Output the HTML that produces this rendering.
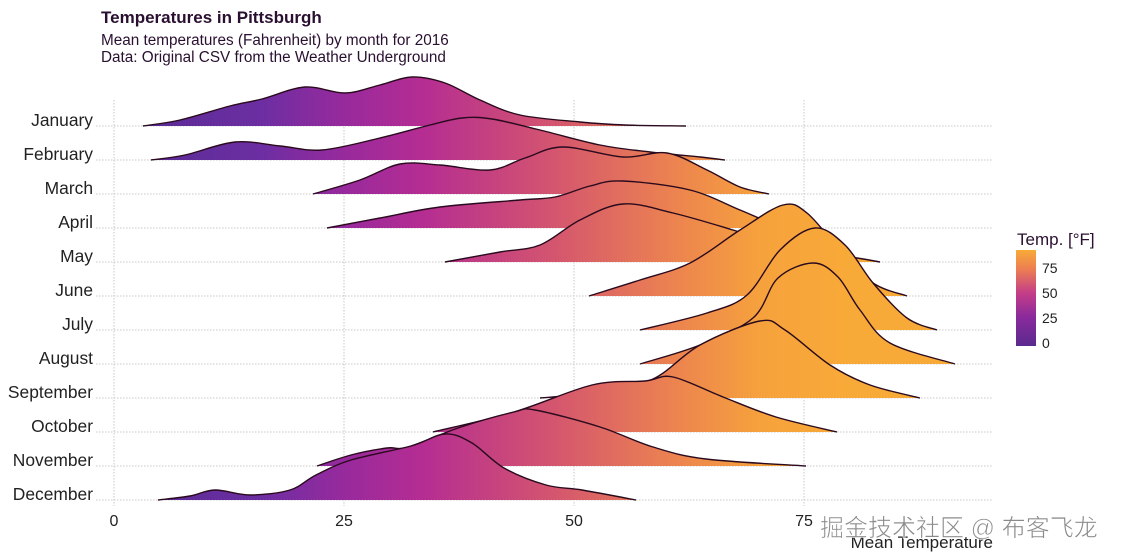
<!DOCTYPE html>
<html><head><meta charset="utf-8"><style>
html,body{margin:0;padding:0;background:#fff;width:1122px;height:560px;overflow:hidden}
svg{display:block}
text{font-family:"Liberation Sans",Arial,sans-serif}
</style></head><body>
<svg id="s" width="1122" height="560" viewBox="0 0 1122 560" xmlns="http://www.w3.org/2000/svg">
<defs>
<linearGradient id="g" gradientUnits="userSpaceOnUse" x1="114" y1="0" x2="850" y2="0">
<stop offset="0" stop-color="#552b92"/>
<stop offset="0.2" stop-color="#6c2ea2"/>
<stop offset="0.32" stop-color="#9a2a9c"/>
<stop offset="0.42" stop-color="#b52d92"/>
<stop offset="0.6" stop-color="#d4566e"/>
<stop offset="0.76" stop-color="#ec8350"/>
<stop offset="0.88" stop-color="#f6a23c"/>
<stop offset="1" stop-color="#f8aa38"/>
</linearGradient>
<linearGradient id="lg" x1="0" y1="1" x2="0" y2="0">
<stop offset="0" stop-color="#5a2a8e"/>
<stop offset="0.3" stop-color="#8a2a9c"/>
<stop offset="0.55" stop-color="#c43d88"/>
<stop offset="0.8" stop-color="#ec7e52"/>
<stop offset="1" stop-color="#f8aa38"/>
</linearGradient>
</defs>
<g id="grid" stroke="#c8c8c8" stroke-width="1" stroke-dasharray="1.5,1.5" fill="none"></g>
<g id="ridges"></g>
<text x="101" y="23" font-size="17" font-weight="bold" fill="#2a1030">Temperatures in Pittsburgh</text>
<text x="101" y="45" font-size="15.3" fill="#2a1030">Mean temperatures (Fahrenheit) by month for 2016</text>
<text x="101" y="62" font-size="15.3" fill="#2a1030">Data: Original CSV from the Weather Underground</text>
<g id="labels" font-size="17.4" fill="#222" text-anchor="end"></g>
<g font-size="16" fill="#222" text-anchor="middle">
<text x="114" y="526">0</text><text x="344" y="526">25</text><text x="574" y="526">50</text><text x="804" y="526">75</text>
</g>
<text x="993" y="548" font-size="17" fill="#222" text-anchor="end">Mean Temperature</text>
<text x="1017" y="245" font-size="17" fill="#2a1030">Temp. [°F]</text>
<rect x="1016" y="250" width="20" height="96" fill="url(#lg)"/>
<g font-size="14" fill="#222">
<text x="1042" y="273">75</text><text x="1042" y="298">50</text><text x="1042" y="323">25</text><text x="1042" y="348">0</text>
</g>
<text x="820" y="536" font-size="24" fill="#8a8a8a" stroke="#fff" stroke-width="0.6" font-family="'Liberation Sans','Noto Sans CJK SC',sans-serif">掘金技术社区 @ 布客飞龙</text>
</svg>
<script>
var months=["January","February","March","April","May","June","July","August","September","October","November","December"];
var data=[
[[143,126],[180,120],[230,106],[262,99],[305,87],[345,93],[380,85],[412,77],[445,83],[480,100],[520,115],[580,122],[625,125],[686,126]],
[[151,160],[185,155],[235,142],[280,146],[322,150],[380,138],[430,125],[462,118],[492,119],[540,130],[600,145],[650,152],[700,157],[725,160]],
[[313,194],[360,180],[400,164],[440,165],[490,170],[525,158],[563,147],[623,157],[667,153],[707,170],[740,187],[769,194]],
[[327,228],[380,218],[440,207],[520,200],[555,197],[590,186],[623,181],[690,190],[740,210],[770,222],[805,228]],
[[445,262],[500,252],[540,245],[580,220],[623,204],[673,213],[733,230],[780,245],[830,254],[857,258],[880,262]],
[[589,296],[640,280],[690,263],[740,230],[783,205],[807,213],[840,250],[873,283],[907,296]],
[[640,330],[707,313],[747,295],[780,250],[815,228],[845,245],[873,283],[907,318],[937,330]],
[[640,364],[700,345],[753,318],[778,278],[813,263],[838,277],[860,310],[890,343],[955,364]],
[[540,398],[600,392],[653,379],[700,345],[760,321],[785,330],[830,365],[870,385],[920,398]],
[[433,432],[514,412],[592,385],[645,381],[673,377],[723,397],[776,417],[837,432]],
[[317,466],[351,455],[387,448],[408,447],[461,427],[514,412],[535,410],[600,427],[653,447],[706,459],[806,466]],
[[158,500],[190,496],[215,490],[250,495],[290,490],[316,475],[351,460],[411,446],[445,434],[472,443],[504,468],[546,485],[582,490],[636,500]]
];
var NS="http://www.w3.org/2000/svg";
function cr(p){var d="M"+p[0][0]+","+p[0][1];for(var i=0;i<p.length-1;i++){var p0=p[i-1]||p[i],p1=p[i],p2=p[i+1],p3=p[i+2]||p2;
var c1x=p1[0]+(p2[0]-p0[0])/6,c1y=p1[1]+(p2[1]-p0[1])/6,c2x=p2[0]-(p3[0]-p1[0])/6,c2y=p2[1]-(p3[1]-p1[1])/6;
d+=" C"+c1x.toFixed(1)+","+c1y.toFixed(1)+" "+c2x.toFixed(1)+","+c2y.toFixed(1)+" "+p2[0]+","+p2[1];}return d;}
var grid=document.getElementById("grid"),rid=document.getElementById("ridges"),lab=document.getElementById("labels");
[114,344,574,804].forEach(function(x){var l=document.createElementNS(NS,"line");l.setAttribute("x1",x);l.setAttribute("x2",x);l.setAttribute("y1",100);l.setAttribute("y2",506);grid.appendChild(l);});
for(var k=0;k<12;k++){var b=126+34*k;
var l=document.createElementNS(NS,"line");l.setAttribute("x1",96);l.setAttribute("x2",992);l.setAttribute("y1",b);l.setAttribute("y2",b);grid.appendChild(l);
var t=document.createElementNS(NS,"text");t.setAttribute("x",93);t.setAttribute("y",b);t.textContent=months[k];lab.appendChild(t);
var p=data[k];var d=cr(p);
var f=document.createElementNS(NS,"path");f.setAttribute("d",d+" L"+p[0][0]+","+b+" Z");f.setAttribute("fill","url(#g)");rid.appendChild(f);
var s=document.createElementNS(NS,"path");s.setAttribute("d",d);s.setAttribute("fill","none");s.setAttribute("stroke","#2a0a1e");s.setAttribute("stroke-width","1.4");rid.appendChild(s);}
</script>
</body></html>
